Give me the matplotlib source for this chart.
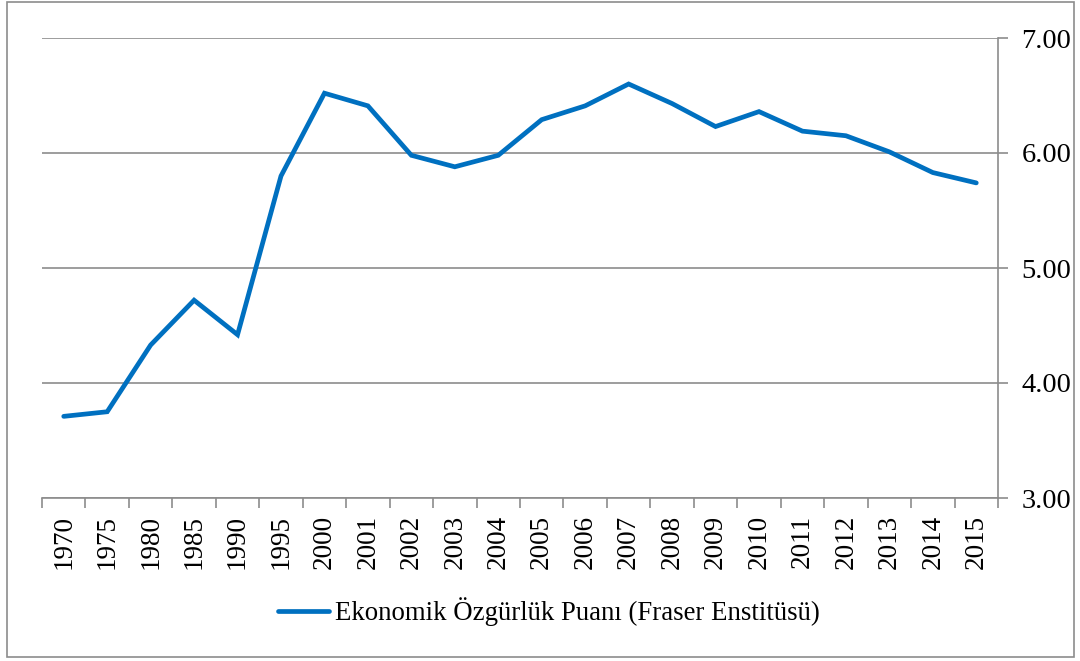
import matplotlib
matplotlib.use("Agg")
import matplotlib.pyplot as plt
from matplotlib.patches import Rectangle

years = ["1970", "1975", "1980", "1985", "1990", "1995", "2000", "2001", "2002",
         "2003", "2004", "2005", "2006", "2007", "2008", "2009", "2010", "2011",
         "2012", "2013", "2014", "2015"]
scores = [3.71, 3.75, 4.33, 4.72, 4.42, 5.80, 6.52, 6.41, 5.98, 5.88, 5.98,
          6.29, 6.41, 6.60, 6.43, 6.23, 6.36, 6.19, 6.15, 6.01, 5.83, 5.74]
series_name = "Ekonomik Özgürlük Puanı (Fraser Enstitüsü)"

plt.rcParams['font.family'] = ['Liberation Serif', 'DejaVu Serif']
grey = "#8c8c8c"

fig = plt.figure(figsize=(10.8, 6.61), dpi=100)
ax = fig.add_axes([42 / 1080, 1 - 498 / 661, 956 / 1080, 460 / 661])

x = list(range(len(years)))
ax.plot(x, scores, color="#0070C0", linewidth=3.4, solid_capstyle="round",
        solid_joinstyle="miter", label=series_name)

ax.set_xlim(-0.5, len(years) - 0.5)
ax.set_ylim(3, 7)
ax.set_yticks([3, 4, 5, 6, 7])
ax.set_yticklabels(["3.00", "4.00", "5.00", "6.00", "7.00"])
ax.yaxis.tick_right()
ax.set_xticks(x)
ax.set_xticklabels(years, rotation=90)
ax.set_xticks([i - 0.5 for i in range(len(years) + 1)], minor=True)
ax.tick_params(axis="x", which="major", length=0, pad=12, labelsize=19.5)
ax.tick_params(axis="x", which="minor", length=7, color=grey, width=1.2)
ax.tick_params(axis="y", length=7, color=grey, width=1.2, labelsize=20.5, pad=10)
ax.grid(axis="y", color=grey, linewidth=1.2)
ax.set_axisbelow(True)

for side in ["top", "left"]:
    ax.spines[side].set_visible(False)
for side in ["right", "bottom"]:
    ax.spines[side].set_color(grey)
    ax.spines[side].set_linewidth(1.2)

fig.legend(loc="center", bbox_to_anchor=(0.5 + 9 / 1080, 1 - 612 / 661),
           frameon=False, fontsize=19.3, handlelength=1.9, handletextpad=0.2)

fig.patches.append(Rectangle((7 / 1080, 4 / 661), 1067 / 1080, 655 / 661,
                             transform=fig.transFigure, fill=False,
                             edgecolor=grey, linewidth=1.2))

fig.savefig("out.png", dpi=100)
